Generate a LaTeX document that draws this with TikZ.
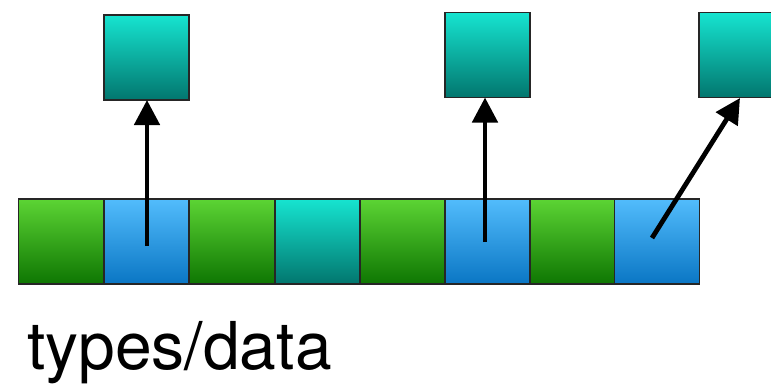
\documentclass[tikz,border=0pt]{standalone}
\usepackage{fontspec}
\setmainfont{TeX Gyre Heros}
\usetikzlibrary{arrows.meta}
\definecolor{gtop}{RGB}{92,212,52}
\definecolor{gbot}{RGB}{14,118,2}
\definecolor{btop}{RGB}{82,188,252}
\definecolor{bbot}{RGB}{10,118,196}
\definecolor{ttop}{RGB}{22,228,208}
\definecolor{tbot}{RGB}{2,118,110}
\tikzset{
  cell/.style={draw=black!85, line width=1.6pt, minimum width=85pt, minimum height=85pt, inner sep=0pt, outer sep=0pt},
  gcell/.style={cell, top color=gtop, bottom color=gbot},
  bcell/.style={cell, top color=btop, bottom color=bbot},
  tcell/.style={cell, top color=ttop, bottom color=tbot},
  ptr/.style={line width=4.8pt, -{Triangle[length=25pt,width=25pt]}}
}
\begin{document}
\begin{tikzpicture}[x=1pt,y=-1pt]
\useasboundingbox (0,0) rectangle (771,384);
\clip (0,0) rectangle (771,384);
\node[gcell] (c1) at (61,241.5) {};
\node[bcell] (c2) at (146.5,241.5) {};
\node[gcell] (c3) at (232,241.5) {};
\node[tcell] (c4) at (317.5,241.5) {};
\node[gcell] (c5) at (402.5,241.5) {};
\node[bcell] (c6) at (487.5,241.5) {};
\node[gcell] (c7) at (572.5,241.5) {};
\node[bcell] (c8) at (657,241.5) {};
\node[tcell] (t1) at (146.5,57.5) {};
\node[tcell] (t2) at (487.5,55) {};
\node[tcell] (t3) at (741.5,55) {};
\coordinate (s1) at (147,246);
\coordinate (s2) at (485,242);
\coordinate (s3) at (652,238);
\coordinate (e3) at (740,98);
\draw[ptr] (s1) -- (s1 |- t1.south);
\draw[ptr] (s2) -- (s2 |- t2.south);
\draw[ptr] (s3) -- (e3);
\node[anchor=base west, font=\fontsize{66pt}{72pt}\selectfont, inner sep=0pt] (lbl) at (27,369) {types/data};
\end{tikzpicture}
\end{document}
